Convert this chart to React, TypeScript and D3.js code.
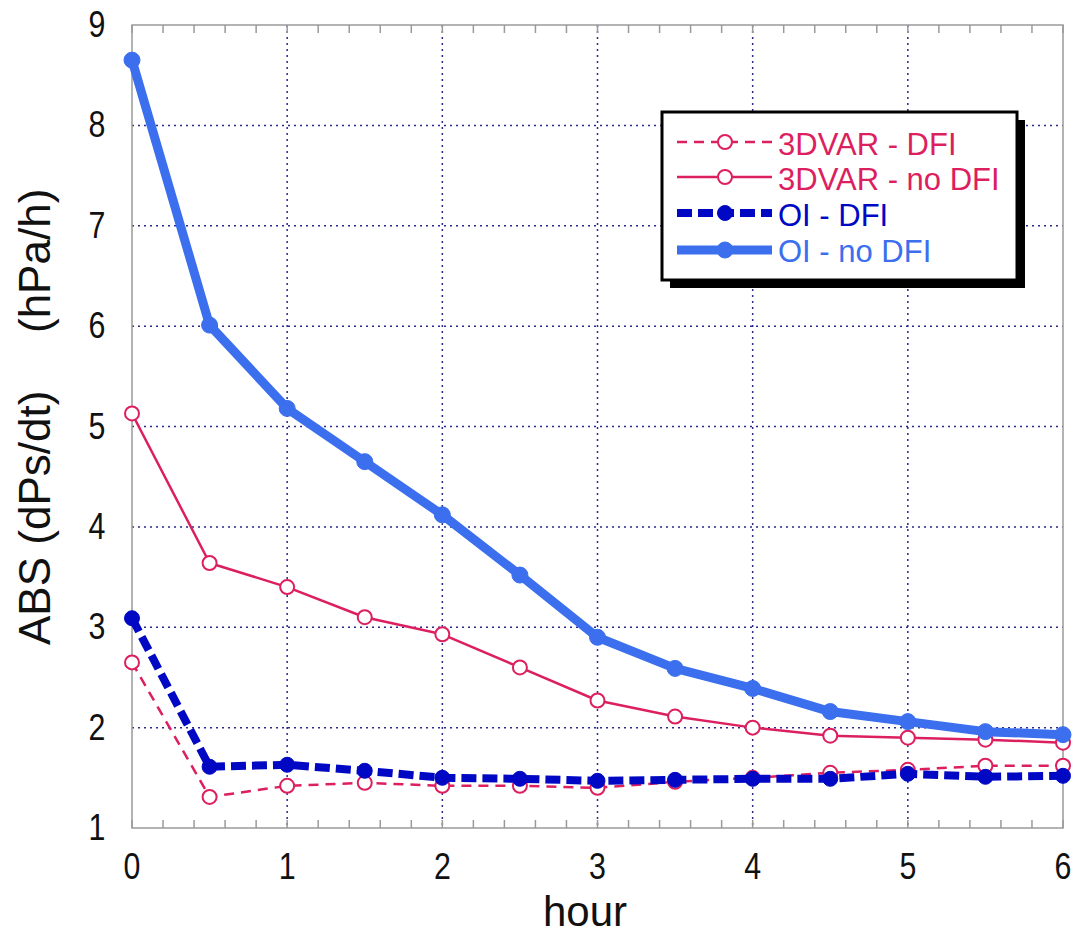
import React from "react";
import * as d3 from "d3";

const hours = [0, 0.5, 1, 1.5, 2, 2.5, 3, 3.5, 4, 4.5, 5, 5.5, 6];
const var3dDfi = [2.65, 1.31, 1.42, 1.45, 1.42, 1.42, 1.4, 1.46, 1.5, 1.55, 1.58, 1.62, 1.62];
const var3dNoDfi = [5.13, 3.64, 3.4, 3.1, 2.93, 2.6, 2.27, 2.11, 2.0, 1.92, 1.9, 1.88, 1.85];
const oiDfi = [3.09, 1.61, 1.63, 1.57, 1.5, 1.49, 1.47, 1.48, 1.49, 1.49, 1.54, 1.51, 1.52];
const oiNoDfi = [8.65, 6.01, 5.18, 4.65, 4.12, 3.52, 2.9, 2.59, 2.39, 2.16, 2.06, 1.96, 1.93];
const xTicks = [0, 1, 2, 3, 4, 5, 6];
const yTicks = [1, 2, 3, 4, 5, 6, 7, 8, 9];
const legendLabels = ["3DVAR - DFI", "3DVAR - no DFI", "OI - DFI", "OI - no DFI"];

const CRIMSON = "#dc1f5f";
const NAVY = "#0008c4";
const LIGHT = "#3b6fee";

const series = [
  { name: legendLabels[0], values: var3dDfi, color: CRIMSON, width: 2.5, dash: "10,7", r: 7, open: true },
  { name: legendLabels[1], values: var3dNoDfi, color: CRIMSON, width: 2.5, dash: null, r: 7, open: true },
  { name: legendLabels[2], values: oiDfi, color: NAVY, width: 8, dash: "15,6", r: 7.5, open: false },
  { name: legendLabels[3], values: oiNoDfi, color: LIGHT, width: 9, dash: null, r: 8, open: false },
];

export default function App() {
  const W = 1075, H = 934;
  const L = 132, R = 1063, T = 25, B = 828;
  const x = d3.scaleLinear().domain([0, 6]).range([L, R]);
  const y = d3.scaleLinear().domain([1, 9]).range([B, T]);
  const line = d3.line<number>().x((_, i) => x(hours[i])).y((v) => y(v));
  const minor = d3.range(0, 6.0001, 0.2);

  return (
    <svg width={W} height={H} style={{ position: "absolute", left: 0, top: 0, background: "#fff" }}
      fontFamily="'Liberation Sans', Arial, sans-serif">
      <rect x={0} y={0} width={W} height={H} fill="#fff" />
      {/* grid */}
      {xTicks.slice(1, -1).map((t) => (
        <line key={"gx" + t} x1={x(t)} x2={x(t)} y1={T} y2={B} stroke="#2a2a8a" strokeWidth={1.5} strokeDasharray="2,4" />
      ))}
      {yTicks.slice(1, -1).map((t) => (
        <line key={"gy" + t} x1={L} x2={R} y1={y(t)} y2={y(t)} stroke="#2a2a8a" strokeWidth={1.5} strokeDasharray="2,4" />
      ))}
      {/* frame */}
      <rect x={L} y={T} width={R - L} height={B - T} fill="none" stroke="#9a9a9a" strokeWidth={1.5} />
      {minor.map((t, i) => (
        <g key={"m" + i}>
          <line x1={x(t)} x2={x(t)} y1={B} y2={B - 8} stroke="#9a9a9a" strokeWidth={1.5} />
          <line x1={x(t)} x2={x(t)} y1={T} y2={T + 8} stroke="#9a9a9a" strokeWidth={1.5} />
        </g>
      ))}
      {/* series */}
      {series.map((s) => (
        <g key={s.name}>
          <path d={line(s.values) || ""} fill="none" stroke={s.color} strokeWidth={s.width}
            strokeDasharray={s.dash || undefined} strokeLinejoin="round" />
          {s.values.map((v, i) => (
            <circle key={i} cx={x(hours[i])} cy={y(v)} r={s.r}
              fill={s.open ? "#fff" : s.color} stroke={s.color} strokeWidth={s.open ? 2 : 1} />
          ))}
        </g>
      ))}
      {/* tick labels */}
      {yTicks.map((t) => (
        <text key={"yl" + t} transform={`translate(97,${y(t) + 12}) scale(0.92,1.1)`} textAnchor="middle" fontSize={33} fill="#111">{t}</text>
      ))}
      {xTicks.map((t) => (
        <text key={"xl" + t} transform={`translate(${x(t)},879) scale(0.92,1.1)`} textAnchor="middle" fontSize={33} fill="#111">{t}</text>
      ))}
      <text x={585} y={926} textAnchor="middle" fontSize={42} fill="#111">hour</text>
      <text transform="translate(50,645) rotate(-90)" fontSize={44} fill="#111">ABS (dPs/dt)</text>
      <text transform="translate(50,333) rotate(-90)" fontSize={44} fill="#111">(hPa/h)</text>
      {/* legend */}
      <rect x={670} y={120} width={355} height={168} fill="#000" />
      <rect x={662} y={112} width={355} height={168} fill="#fff" stroke="#000" strokeWidth={3} />
      {series.map((s, i) => {
        const ly = [142, 177, 213, 250][i];
        const by = [155, 190, 226, 262][i];
        return (
          <g key={"lg" + i}>
            <line x1={677} x2={772} y1={ly} y2={ly} stroke={s.color} strokeWidth={s.width}
              strokeDasharray={s.dash || undefined} />
            <circle cx={725} cy={ly} r={s.r} fill={s.open ? "#fff" : s.color} stroke={s.color} strokeWidth={s.open ? 2 : 1} />
            <text x={778} y={by} fontSize={31} fill={s.color}>{s.name}</text>
          </g>
        );
      })}
    </svg>
  );
}
